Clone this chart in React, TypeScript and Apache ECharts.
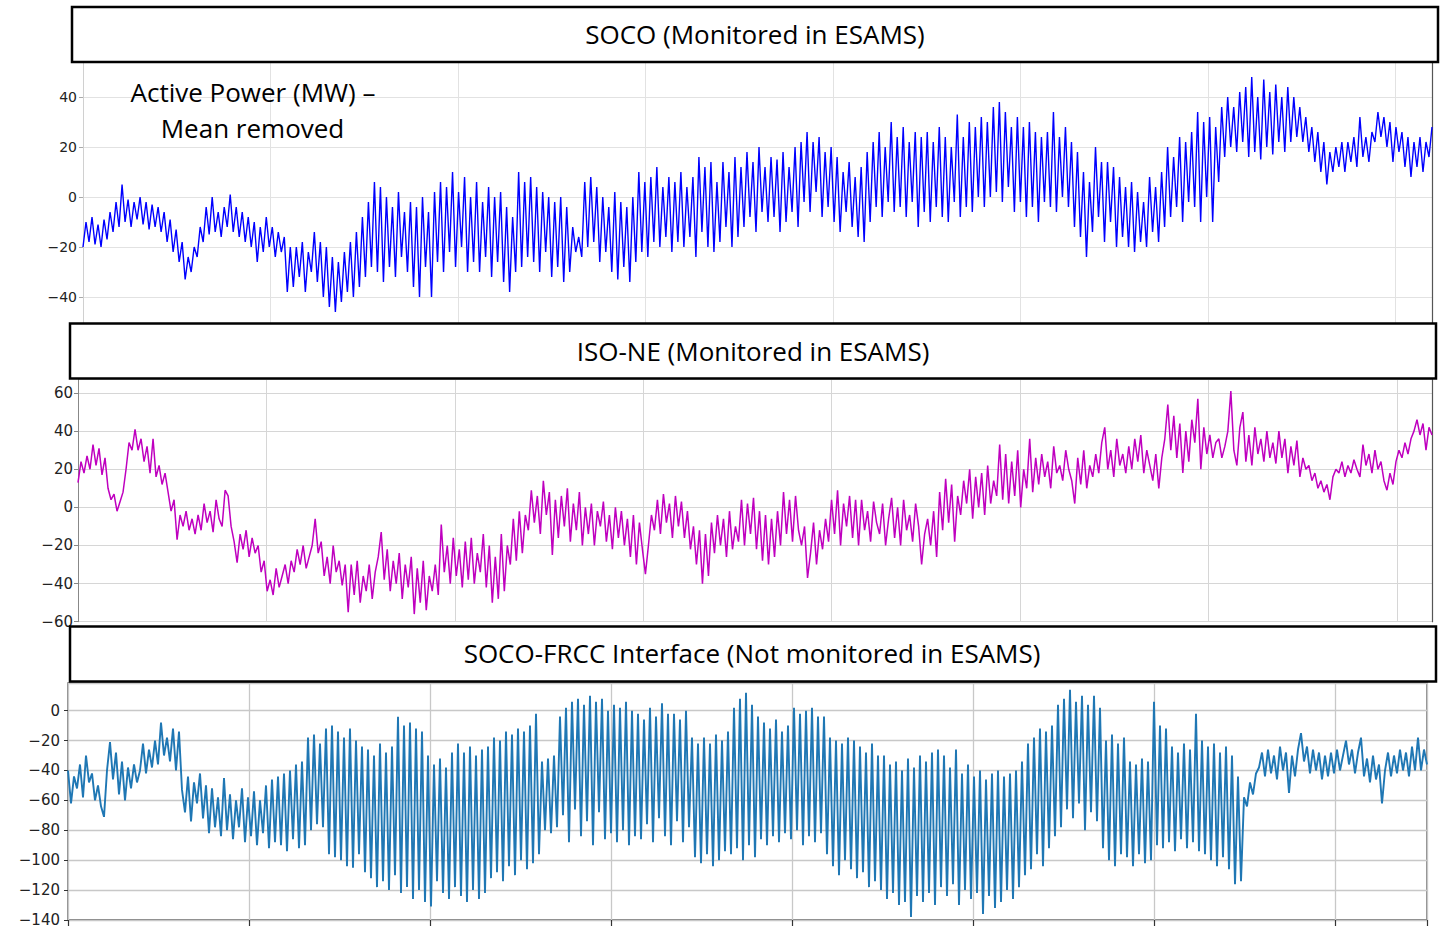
import React, { useEffect, useRef } from "react";
import * as echarts from "echarts";

// SOCO active power, mean removed (MW)
const socoValues: number[] = [
  -20,-10,-18,-8,-19,-11,-20,-9,-17,-6,
  -14,-2,-12,5,-10,-1,-12,-2,-9,0,
  -11,-2,-13,-3,-12,-4,-14,-6,-18,-9,
  -22,-13,-26,-18,-33,-24,-30,-20,-24,-12,
  -18,-4,-15,0,-14,-6,-16,-4,-12,1,
  -14,-4,-16,-6,-18,-8,-20,-10,-26,-12,
  -22,-8,-20,-12,-24,-14,-22,-16,-38,-20,
  -36,-20,-32,-18,-38,-22,-30,-14,-34,-18,
  -40,-20,-44,-24,-46,-26,-42,-22,-38,-18,
  -40,-14,-36,-8,-32,-2,-28,6,-30,4,
  -34,0,-28,-4,-32,2,-24,-6,-30,-2,
  -36,-4,-40,0,-28,-6,-40,2,-26,6,
  -30,4,-22,10,-28,2,-20,8,-30,0,
  -26,6,-30,-2,-24,4,-32,0,-26,2,
  -34,-4,-38,-8,-30,10,-28,6,-24,8,
  -26,4,-30,2,-22,0,-32,-2,-28,0,
  -34,-4,-30,-12,-22,-16,-24,6,-20,8,
  -18,4,-26,0,-22,-4,-30,2,-33,-2,
  -28,-4,-34,0,-26,10,-22,6,-24,8,
  -18,12,-20,4,-16,8,-22,6,-18,10,
  -20,4,-16,8,-24,16,-14,12,-20,14,
  -22,6,-18,14,-12,10,-20,16,-16,12,
  -12,18,-8,14,-14,20,-6,12,-10,16,
  -8,15,-14,18,-10,12,-6,20,-12,22,
  -2,26,-6,22,2,24,-8,18,-4,20,
  -10,16,-14,10,-6,14,-12,8,-16,12,
  -18,18,-10,22,-4,26,-8,20,-2,30,
  -6,24,-4,28,-8,22,-2,26,-12,24,
  -6,26,-10,22,-4,28,-8,24,-10,20,
  -2,33,-8,24,-4,30,-6,28,0,32,
  -4,30,0,36,2,38,-2,34,4,28,
  -6,32,-2,28,-8,30,-4,26,-10,24,
  -2,26,-4,34,-6,24,0,28,-4,22,
  -12,18,-16,10,-24,6,-14,20,-8,14,
  -18,14,-10,12,-20,8,-16,4,-20,6,
  -22,2,-18,-2,-20,8,-14,4,-18,10,
  -12,20,-8,16,-4,24,-10,22,-2,26,
  -4,34,-10,30,0,32,-10,28,6,36,
  16,40,20,36,18,42,22,44,16,48,
  18,40,15,47,20,42,17,45,22,40,
  18,44,22,40,24,36,22,32,18,28,
  14,26,10,22,5,18,10,20,12,22,
  10,22,14,24,12,32,16,24,14,26,
  22,34,24,32,20,30,14,28,18,26,
  12,24,8,22,12,24,10,22,16,28
];

// ISO-NE active power, mean removed (MW)
const isoneValues: number[] = [
  13,24,18,27,20,33,22,31,17,26,
  10,4,7,-2,3,8,20,34,30,41,
  30,36,24,32,18,36,16,22,12,18,
  8,-2,4,-17,-4,-10,-2,-12,-6,-14,
  -4,-12,2,-8,-2,-13,4,-6,-10,9,
  6,-10,-18,-29,-14,-22,-12,-26,-16,-24,
  -20,-34,-28,-44,-38,-46,-32,-42,-36,-30,
  -40,-28,-34,-22,-30,-20,-32,-26,-20,-6,
  -24,-18,-36,-26,-40,-20,-34,-28,-41,-30,
  -55,-30,-46,-28,-50,-36,-44,-30,-48,-34,
  -26,-13,-38,-22,-44,-28,-40,-24,-48,-30,
  -42,-26,-56,-32,-50,-28,-54,-36,-44,-30,
  -46,-9,-34,-20,-40,-16,-36,-22,-42,-18,
  -38,-16,-40,-24,-34,-14,-42,-20,-50,-26,
  -48,-14,-44,-20,-30,-6,-28,-2,-24,-4,
  -12,9,-8,6,-14,14,-4,8,-25,4,
  -16,6,-10,10,-18,2,-12,8,-20,0,
  -14,2,-20,-2,-10,3,-18,-4,-22,0,
  -16,-2,-20,-6,-26,-4,-30,-8,-22,-35,
  -20,-4,-12,4,-14,7,-8,2,-16,6,
  -10,3,-16,-2,-22,-10,-30,-12,-40,-14,
  -36,-8,-24,-4,-20,-6,-26,-2,-22,-10,
  -18,4,-20,2,-14,5,-22,-2,-28,-4,
  -30,-6,-26,-2,-20,8,-14,4,-18,6,
  -12,-20,-10,-37,-24,-8,-30,-12,-22,-6,
  -18,4,-14,9,-20,2,-10,6,-16,4,
  -20,4,-12,-2,-18,3,-8,-14,2,-20,
  -6,5,-16,0,-20,4,-12,-4,-18,2,
  -10,-30,-14,-6,-20,-2,-26,8,-12,15,
  -8,12,-18,6,-4,14,2,20,-6,16,
  0,18,-4,22,2,14,6,33,4,28,
  2,24,6,30,0,20,10,36,8,26,
  12,28,16,24,10,32,18,22,14,30,
  20,14,2,26,12,30,10,22,16,28,
  18,34,42,20,30,16,36,22,28,18,
  32,20,36,24,38,18,30,22,14,28,
  10,26,36,54,30,48,26,44,18,40,
  24,46,34,57,20,42,28,38,26,34,
  36,26,32,40,61,30,22,42,50,24,
  38,22,42,28,36,24,40,26,34,23,
  40,26,36,18,32,22,35,16,26,20,
  22,14,18,10,14,8,12,4,16,20,
  18,24,16,22,18,25,20,16,33,22,
  28,18,30,20,24,14,9,18,12,24,
  30,26,34,28,36,40,46,38,44,30,
  42,38
];

// SOCO-FRCC interface active power, mean removed (MW)
const frccValues: number[] = [
  -40,-62,-44,-52,-36,-58,-30,-48,-42,-60,
  -50,-64,-71,-40,-21,-46,-28,-56,-34,-60,
  -38,-52,-36,-48,-40,-22,-42,-26,-38,-20,
  -36,-8,-30,-18,-34,-12,-40,-14,-53,-68,
  -44,-74,-48,-62,-42,-72,-50,-82,-52,-78,
  -58,-84,-45,-80,-56,-86,-60,-78,-52,-88,
  -58,-84,-54,-90,-60,-82,-50,-92,-46,-88,
  -44,-90,-42,-94,-40,-86,-36,-92,-34,-90,
  -18,-80,-16,-76,-22,-78,-12,-96,-10,-98,
  -14,-100,-18,-104,-12,-105,-20,-96,-24,-108,
  -26,-112,-30,-118,-22,-114,-28,-120,-24,-110,
  -4,-122,-10,-118,-8,-126,-12,-120,-14,-128,
  -30,-131,-36,-114,-32,-122,-38,-126,-28,-118,
  -22,-124,-28,-128,-24,-120,-30,-126,-26,-122,
  -24,-112,-18,-108,-20,-114,-14,-104,-16,-110,
  -12,-100,-14,-106,-10,-102,-2,-96,-34,-80,
  -32,-82,-30,-78,-4,-70,2,-88,6,-66,
  8,-84,4,-74,10,-90,6,-68,8,-86,
  0,-82,4,-88,2,-80,6,-90,0,-84,
  -2,-86,-6,-76,2,-88,-4,-72,5,-84,
  -2,-90,-2,-74,-6,-88,0,-78,-18,-98,
  -22,-102,-18,-96,-22,-104,-16,-100,-20,-94,
  -14,-96,2,-92,8,-100,12,-90,4,-98,
  -4,-86,-8,-90,-12,-84,-6,-88,-14,-82,
  -10,-86,2,-80,-2,-90,0,-84,2,-88,
  -4,-82,-4,-96,-18,-104,-20,-110,-22,-100,
  -18,-106,-20,-112,-24,-108,-28,-118,-22,-114,
  -30,-120,-30,-126,-36,-122,-34,-130,-40,-128,
  -32,-138,-38,-124,-30,-128,-34,-122,-28,-130,
  -26,-118,-30,-124,-38,-116,-26,-130,-42,-120,
  -36,-126,-44,-122,-40,-136,-46,-124,-42,-132,
  -40,-128,-44,-120,-42,-126,-40,-118,-34,-110,
  -22,-106,-18,-96,-12,-104,-14,-92,-10,-84,
  4,-78,8,-66,14,-72,6,-62,10,-80,
  4,-68,10,-74,2,-92,-20,-100,-16,-104,
  -22,-96,-18,-98,-34,-104,-36,-96,-32,-102,
  -34,-100,6,-90,-10,-92,-12,-88,-24,-94,
  -28,-86,-22,-92,-26,-88,-2,-94,-20,-96,
  -24,-100,-22,-104,-28,-98,-24,-106,-30,-116,
  -44,-114,-58,-64,-48,-56,-42,-38,-28,-44,
  -26,-42,-30,-46,-24,-40,-28,-55,-30,-44,
  -26,-15,-34,-24,-42,-26,-40,-28,-46,-30,
  -44,-28,-42,-26,-40,-30,-20,-36,-26,-42,
  -28,-18,-44,-32,-48,-30,-46,-36,-62,-40,
  -28,-44,-30,-42,-26,-40,-28,-44,-24,-40,
  -18,-40,-26,-36
];

const panelTitles = [
  "SOCO (Monitored in ESAMS)",
  "ISO-NE (Monitored in ESAMS)",
  "SOCO-FRCC Interface (Not monitored in ESAMS)",
];
const noteLines = ["Active Power (MW) \u2013", "Mean removed"];

const toXY = (arr: number[]) => arr.map((v, i) => [i, v]);
const minus = (v: number) => String(v).replace("-", "\u2212");

export default function App() {
  const ref = useRef<HTMLDivElement>(null);
  useEffect(() => {
    if (!ref.current) return;
    const chart = echarts.init(ref.current, undefined, { renderer: "svg" });

    const grids = [
      { width: 1349, spacing: 187.5, n: socoValues.length },
      { width: 1354, spacing: 188.4, n: isoneValues.length },
      { width: 1359, spacing: 181, n: frccValues.length },
    ];

    const xAxis = grids.map((g, i) => ({
      type: "value",
      gridIndex: i,
      min: 0,
      max: g.n - 1,
      interval: ((g.n - 1) * g.spacing) / g.width,
      axisLabel: { show: false },
      axisLine: { show: false, onZero: false },
      axisTick: { show: i === 2, length: 6, lineStyle: { color: "#333", width: 1.2 } },
      splitLine: {
        show: true,
        lineStyle: { color: i === 0 ? "#e2e2e2" : i === 1 ? "#d6d6d6" : "#c8c8c8", width: i === 2 ? 1.3 : 1 },
      },
    }));

    const labelBase = { fontFamily: "DejaVu Sans", color: "#222", formatter: minus, showMaxLabel: false };

    const yAxis = [
      {
        type: "value", gridIndex: 0, min: -60, max: 54, interval: 20, position: "left",
        axisLine: { show: true, onZero: false, lineStyle: { color: "#d0d0d0" } },
        axisTick: { show: true, length: 4, lineStyle: { color: "#aaa" } },
        axisLabel: { ...labelBase, fontSize: 14, margin: 6, showMinLabel: false },
        splitLine: { show: true, lineStyle: { color: "#e2e2e2" } },
      },
      {
        type: "value", gridIndex: 0, min: -60, max: 54, position: "right",
        axisLine: { show: true, onZero: false, lineStyle: { color: "#555", width: 1.2 } },
        axisTick: { show: false }, axisLabel: { show: false }, splitLine: { show: false },
      },
      {
        type: "value", gridIndex: 1, min: -60, max: 67, interval: 20, position: "left",
        axisLine: { show: true, onZero: false, lineStyle: { color: "#888" } },
        axisTick: { show: true, length: 4, lineStyle: { color: "#888" } },
        axisLabel: { ...labelBase, fontSize: 15, margin: 5 },
        splitLine: { show: true, lineStyle: { color: "#d6d6d6" } },
      },
      {
        type: "value", gridIndex: 1, min: -60, max: 67, position: "right",
        axisLine: { show: true, onZero: false, lineStyle: { color: "#555", width: 1.2 } },
        axisTick: { show: false }, axisLabel: { show: false }, splitLine: { show: false },
      },
      {
        type: "value", gridIndex: 2, min: -140, max: 18.5, interval: 20, position: "left",
        axisLine: { show: false, onZero: false },
        axisTick: { show: true, length: 4, lineStyle: { color: "#333" } },
        axisLabel: { ...labelBase, fontSize: 15, margin: 8 },
        splitLine: { show: true, lineStyle: { color: "#c8c8c8", width: 1.3 } },
      },
    ];

    const lineSeries = (data: number[], xi: number, yi: number, color: string, width: number) => ({
      type: "line",
      xAxisIndex: xi,
      yAxisIndex: yi,
      data: toXY(data),
      showSymbol: false,
      symbol: "none",
      lineStyle: { color, width },
      z: 3,
    });

    const box = (x: number, y: number, w: number, h: number) => ({
      type: "rect",
      shape: { x, y, width: w, height: h },
      style: { fill: "#fff", stroke: "#000", lineWidth: 2.5 },
      z: 100,
    });
    const title = (text: string, x: number, y: number) => ({
      type: "text",
      x, y,
      style: { text, fontSize: 26, fontFamily: "Open Sans", fill: "#000", align: "center", verticalAlign: "middle" },
      z: 101,
    });

    chart.setOption({
      animation: false,
      backgroundColor: "#fff",
      grid: [
        { left: 83, top: 62, width: 1349, height: 285, show: false },
        { left: 78, top: 379.7, width: 1354, height: 242, show: false },
        { left: 68, top: 683, width: 1359, height: 237, show: true, borderColor: "#555", borderWidth: 1.3, backgroundColor: "transparent" },
      ],
      xAxis,
      yAxis,
      series: [
        lineSeries(socoValues, 0, 0, "#0000ff", 1.4),
        lineSeries(isoneValues, 1, 2, "#bf00bf", 1.5),
        lineSeries(frccValues, 2, 4, "#1f77b4", 1.9),
      ],
      graphic: [
        box(72, 7, 1366, 55),
        title(panelTitles[0], 755, 34),
        box(70, 323.5, 1366, 55),
        title(panelTitles[1], 753, 351),
        box(70, 626.5, 1366, 55),
        title(panelTitles[2], 752, 653),
        title(noteLines[0], 253, 92),
        title(noteLines[1], 252.5, 128),
      ],
    });
    return () => chart.dispose();
  }, []);

  return (
    <div
      ref={ref}
      style={{ position: "fixed", left: 0, top: 0, width: 1443, height: 928, background: "#fff" }}
    />
  );
}
